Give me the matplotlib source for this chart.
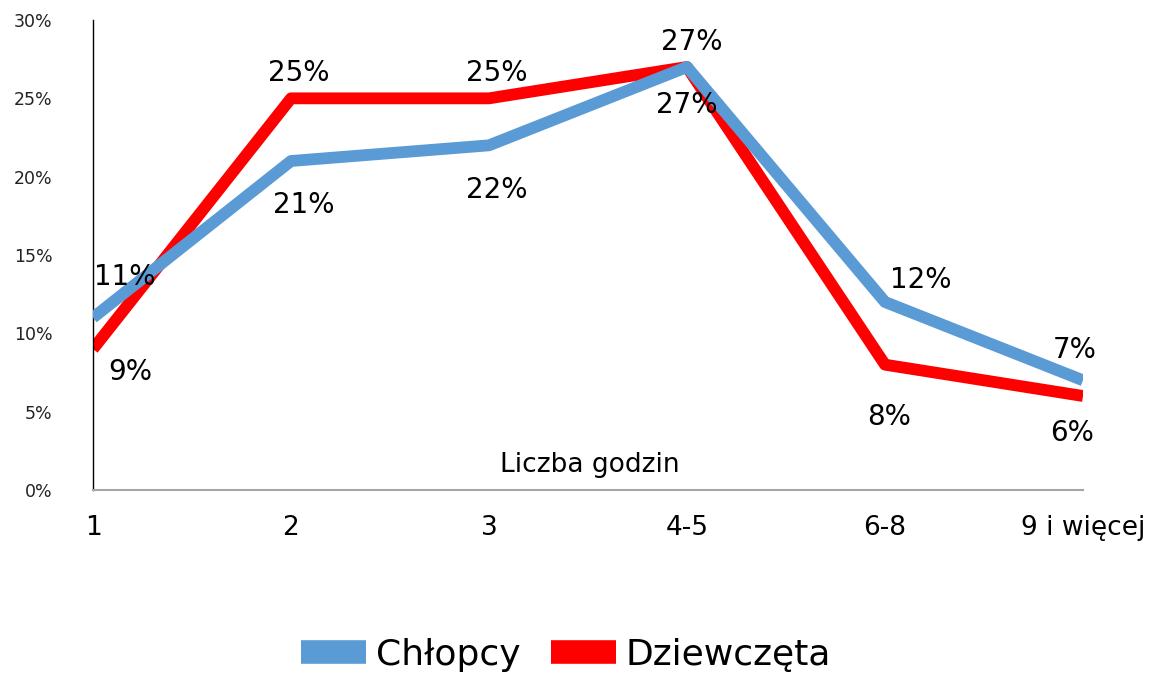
import matplotlib
matplotlib.use("Agg")
import matplotlib.pyplot as plt
from matplotlib.ticker import FuncFormatter

plt.rcParams['font.family'] = ['DejaVu Sans']

categories = ['1', '2', '3', '4-5', '6-8', '9 i więcej']
chlopcy = [11, 21, 22, 27, 12, 7]
dziewczeta = [9, 25, 25, 27, 8, 6]
series_names = ['Chłopcy', 'Dziewczęta']
axis_title = 'Liczba godzin'

blue = '#5B9BD5'
red = '#FF0000'

# label offsets in pixels (dx, dy) from each point
blue_offsets = [(32, 41), (13, -44), (8, -45), (0, -38), (36, 22), (-8, 30)]
red_offsets = [(37, -23), (8, 25), (8, 25), (5, 25), (4, -52), (-11, -37)]

fig = plt.figure(figsize=(11.72, 6.75), dpi=100)
ax = fig.add_axes([93 / 1172, 1 - 490 / 675, 990 / 1172, 470 / 675])

x = list(range(len(categories)))
ax.plot(x, dziewczeta, color=red, lw=8.5, solid_capstyle='butt', zorder=2, label=series_names[1])
ax.plot(x, chlopcy, color=blue, lw=8.5, solid_capstyle='butt', zorder=3, label=series_names[0])

for xi, v, off in zip(x, chlopcy, blue_offsets):
    ax.annotate('%d%%' % v, (xi, v), xytext=off, textcoords='offset pixels',
                ha='center', va='center', fontsize=20, color='black', zorder=5)
for xi, v, off in zip(x, dziewczeta, red_offsets):
    ax.annotate('%d%%' % v, (xi, v), xytext=off, textcoords='offset pixels',
                ha='center', va='center', fontsize=20, color='black', zorder=5)

ax.set_xlim(0, len(categories) - 1)
ax.set_ylim(0, 30)
ax.set_xticks(x)
ax.set_xticklabels(categories, fontsize=19)
ax.set_yticks(range(0, 31, 5))
ax.yaxis.set_major_formatter(FuncFormatter(lambda v, p: '%d%%' % v))
ax.tick_params(axis='y', length=0, pad=29, labelsize=12.5, labelcolor='#222222')
ax.tick_params(axis='x', length=0, pad=18)

ax.spines['top'].set_visible(False)
ax.spines['right'].set_visible(False)
ax.spines['left'].set_color('black')
ax.spines['left'].set_linewidth(1)
ax.spines['bottom'].set_color('#A6A6A6')
ax.spines['bottom'].set_linewidth(1.5)

ax.text(0.502, 0.053, axis_title, transform=ax.transAxes, ha='center', va='center', fontsize=19)

handles, labels = ax.get_legend_handles_labels()
leg = fig.legend(handles[::-1], labels[::-1], loc='center', bbox_to_anchor=(566 / 1172, 1 - 655 / 675),
                 ncol=2, frameon=False, fontsize=26, handlelength=1.8, handletextpad=0.28,
                 columnspacing=0.83)
for line in leg.get_lines():
    line.set_linewidth(17)
    line.set_solid_capstyle('butt')

fig.savefig('out.png', dpi=100)
